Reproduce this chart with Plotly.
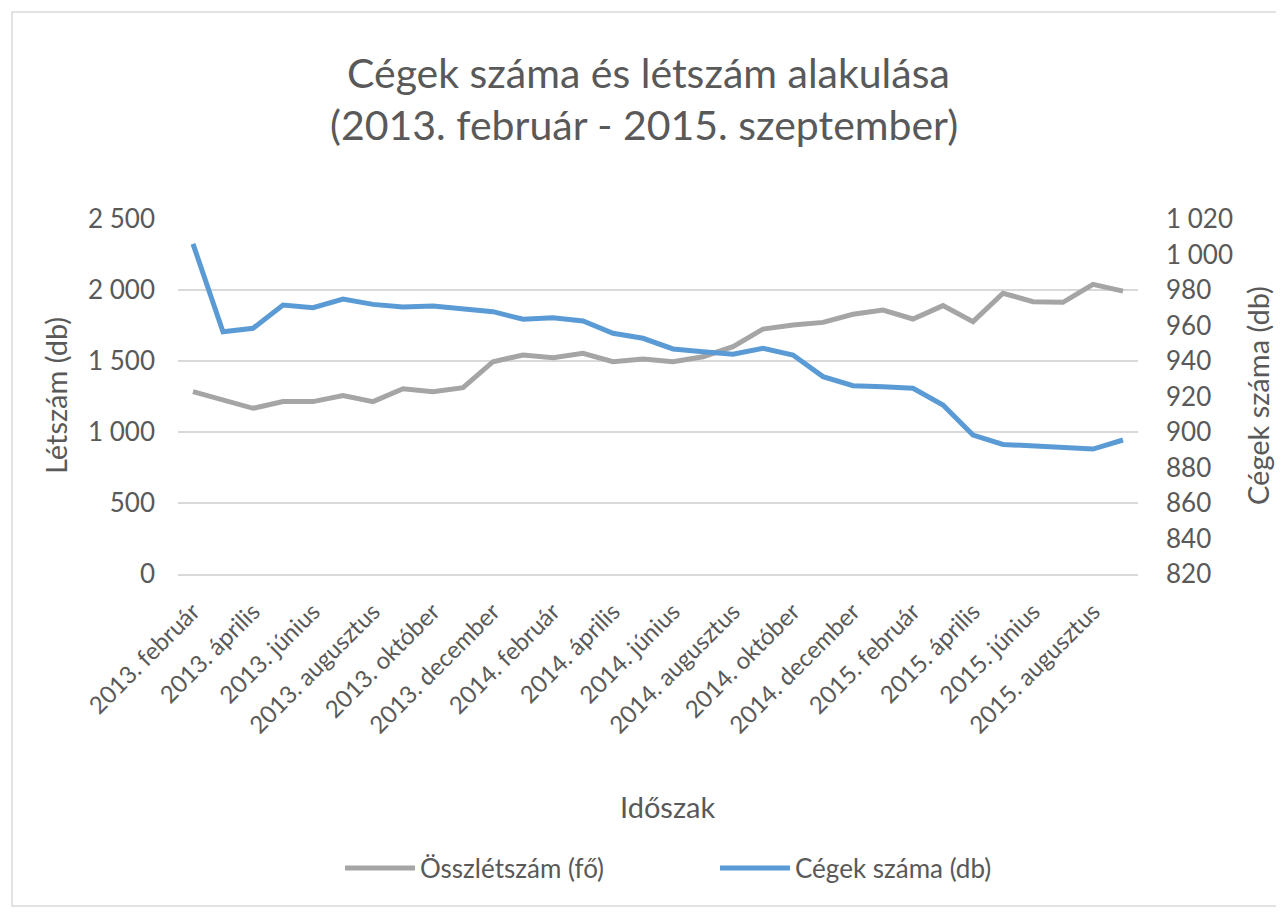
import plotly.graph_objects as go

months_hu = ["január", "február", "március", "április", "május", "június",
             "július", "augusztus", "szeptember", "október", "november", "december"]

# Időszak: 2013. február - 2015. szeptember
periods = (["2013. " + m for m in months_hu[1:]] +
           ["2014. " + m for m in months_hu] +
           ["2015. " + m for m in months_hu[:9]])

# Összlétszám (fő) - left axis
headcount = [1284, 1225, 1167, 1214, 1214, 1256, 1214, 1305, 1284, 1312,
             1495, 1542, 1523, 1554, 1495, 1514, 1495, 1530, 1601, 1725,
             1754, 1772, 1829, 1859, 1796, 1890, 1777, 1977, 1918, 1913,
             2040, 1992]

# Cégek száma (db) - right axis
companies = [1006, 956.5, 958.4, 971.5, 970.0, 974.9, 971.9, 970.4, 971.0, 969.3,
             967.8, 963.5, 964.4, 962.5, 955.6, 952.8, 946.8, 945.2, 943.8, 947.1,
             943.4, 931.2, 926.1, 925.5, 924.6, 915.2, 898.3, 893.0, 892.3, 891.2,
             890.4, 895.5]

tick_labels = periods[::2]

TXT = "#595959"
FONT = "Lato"

fig = go.Figure()
fig.add_trace(go.Scatter(x=periods, y=headcount, name="Összlétszám (fő)",
                         mode="lines", line=dict(color="#a5a5a5", width=5),
                         yaxis="y"))
fig.add_trace(go.Scatter(x=periods, y=companies, name="Cégek száma (db)",
                         mode="lines", line=dict(color="#5b9bd5", width=5),
                         yaxis="y2"))

OFF = 8  # page body margin
FW, FH = 1284 - 2 * OFF, 917 - 2 * OFF
L, R, T, B = 178 - OFF, 1138 - OFF, 219 - OFF, 574 - OFF
W, H = R - L, B - T

def px(x):  # x in screen pixels of the reference
    return (x - OFF - L) / W

def py(y):
    return (B - (y - OFF)) / H

fig.update_layout(
    width=FW, height=FH,
    margin=dict(l=L, r=FW - R, t=T, b=FH - B, autoexpand=False),
    paper_bgcolor="white", plot_bgcolor="white",
    separators=", ",
    font=dict(family=FONT, color=TXT, size=25),
    showlegend=True,
    legend=dict(orientation="h", x=px(340), xanchor="left",
                y=py(868), yanchor="middle",
                font=dict(size=26, color=TXT, family=FONT),
                itemwidth=70, entrywidth=290, traceorder="normal"),
    xaxis=dict(type="category", categoryorder="array", categoryarray=periods,
               tickmode="array", tickvals=tick_labels, ticktext=tick_labels,
               tickangle=-45, showgrid=False, showline=True,
               linecolor="#d9d9d9", linewidth=2, ticks="",
               ticklabelstandoff=12,
               tickfont=dict(size=24, color=TXT, family=FONT),
               range=[-0.5, len(periods) - 0.5]),
    yaxis=dict(range=[0, 2500], dtick=500, tick0=0, showgrid=True,
               gridcolor="#d9d9d9", gridwidth=1.8, zeroline=False,
               separatethousands=True, ticks="", ticklabelstandoff=22,
               tickfont=dict(size=26, color=TXT, family=FONT)),
    yaxis2=dict(range=[820, 1020], dtick=20, tick0=820, overlaying="y",
                side="right", showgrid=False, zeroline=False,
                separatethousands=True, ticks="", ticklabelstandoff=27,
                tickfont=dict(size=26, color=TXT, family=FONT)),
)

annotations = [
    dict(text="Cégek száma és létszám alakulása", x=px(648), y=py(72),
         font=dict(size=41, color=TXT, family=FONT)),
    dict(text="(2013. február - 2015. szeptember)", x=px(644), y=py(125),
         font=dict(size=41, color=TXT, family=FONT)),
    dict(text="Időszak", x=px(667), y=py(806),
         font=dict(size=29, color=TXT, family=FONT)),
    dict(text="Létszám (db)", x=px(55), y=py(396), textangle=-90,
         font=dict(size=29, color=TXT, family=FONT)),
    dict(text="Cégek száma (db)", x=px(1257), y=py(396), textangle=-90,
         font=dict(size=29, color=TXT, family=FONT)),
]
for a in annotations:
    a.update(xref="paper", yref="paper", showarrow=False,
             xanchor="center", yanchor="middle")
fig.update_layout(annotations=annotations)

fig.add_shape(type="rect", xref="paper", yref="paper",
              x0=px(12), x1=px(1279), y0=py(906), y1=py(12),
              line=dict(color="#d9d9d9", width=1.5), layer="below")

fig.write_html("out.html")
